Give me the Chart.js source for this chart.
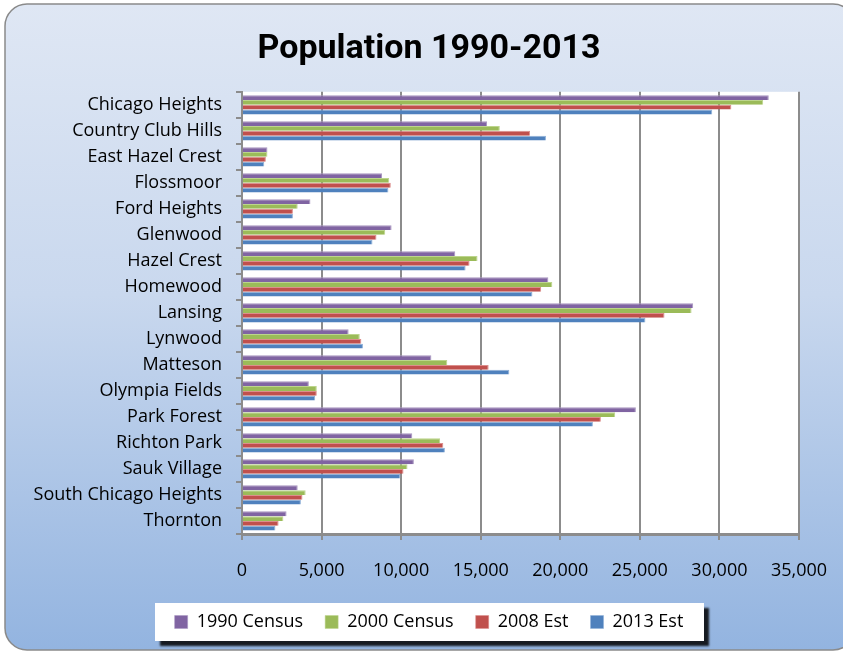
<!DOCTYPE html>
<html>
<head>
<meta charset="utf-8">
<script src="https://cdn.jsdelivr.net/npm/chart.js@4"></script>
<style>
  html, body { margin: 0; padding: 0; background: #ffffff; }
  #wrap { width: 843px; height: 654px; position: relative; }
</style>
</head>
<body>
<div id="wrap"><canvas id="chart" width="843" height="654"></canvas></div>
<script>
// populations
const categories = ['Chicago Heights', 'Country Club Hills', 'East Hazel Crest', 'Flossmoor', 'Ford Heights',
  'Glenwood', 'Hazel Crest', 'Homewood', 'Lansing', 'Lynwood', 'Matteson', 'Olympia Fields',
  'Park Forest', 'Richton Park', 'Sauk Village', 'South Chicago Heights', 'Thornton'];
const census1990 = [33100, 15400, 1600, 8800, 4300, 9400, 13400, 19250, 28350, 6700, 11900, 4200, 24750, 10700, 10800, 3500, 2800];
const census2000 = [32750, 16200, 1600, 9250, 3500, 9000, 14800, 19500, 28250, 7400, 12900, 4700, 23450, 12450, 10400, 4000, 2600];
const est2008 = [30750, 18100, 1500, 9350, 3200, 8450, 14300, 18800, 26550, 7500, 15500, 4700, 22550, 12650, 10150, 3800, 2300];
const est2013 = [29550, 19100, 1400, 9200, 3200, 8200, 14050, 18250, 25350, 7600, 16800, 4600, 22050, 12750, 9950, 3700, 2100];
const xTicks = [0, 5000, 10000, 15000, 20000, 25000, 30000, 35000];

const FONT = "'Open Sans', 'DejaVu Sans', sans-serif";
const PAD_LEFT = 15;

// outer rounded panel, white plot area and the legend frame with its shadow
const backdrop = {
  id: 'backdrop',
  beforeDraw(chart) {
    const ctx = chart.ctx;
    const a = chart.chartArea;
    ctx.save();
    const g = ctx.createLinearGradient(0, 4, 0, 650);
    g.addColorStop(0, '#dfe7f4');
    g.addColorStop(0.45, '#c9d8ee');
    g.addColorStop(1, '#93b4e0');
    ctx.beginPath();
    ctx.roundRect(5, 4, 850, 646, 22);
    ctx.fillStyle = g;
    ctx.fill();
    ctx.strokeStyle = '#8a8a8a';
    ctx.lineWidth = 1.5;
    ctx.stroke();

    ctx.fillStyle = '#ffffff';
    ctx.fillRect(a.left, a.top, a.right - a.left, a.bottom - a.top);

    // legend box
    ctx.shadowColor = 'rgba(0,0,0,0.85)';
    ctx.shadowBlur = 2;
    ctx.shadowOffsetX = 5;
    ctx.shadowOffsetY = 5;
    ctx.fillStyle = '#ffffff';
    ctx.fillRect(155, 603, 549, 38);
    ctx.restore();
  }
};

new Chart(document.getElementById('chart'), {
  type: 'bar',
  data: {
    labels: categories,
    datasets: [
      { label: '1990 Census', data: census1990, backgroundColor: '#8064a2', borderColor: '#a896c0' },
      { label: '2000 Census', data: census2000, backgroundColor: '#9bbb59', borderColor: '#bcd58c' },
      { label: '2008 Est', data: est2008, backgroundColor: '#c0504d', borderColor: '#dc8e8c' },
      { label: '2013 Est', data: est2013, backgroundColor: '#4f81bd', borderColor: '#8fb0d8' }
    ]
  },
  options: {
    indexAxis: 'y',
    responsive: false,
    animation: false,
    categoryPercentage: 0.74,
    barPercentage: 1,
    borderWidth: { top: 1, bottom: 0, left: 0, right: 1 },
    layout: { padding: { left: PAD_LEFT, right: 0, top: 0, bottom: 13 } },
    plugins: {
      title: {
        display: true,
        text: 'Population 1990-2013',
        color: '#000000',
        font: { family: "Roboto, " + FONT, size: 34, weight: 'bold' },
        padding: { top: 29, bottom: 22 }
      },
      legend: {
        position: 'bottom',
        labels: {
          color: '#000000',
          font: { family: FONT, size: 18 },
          boxWidth: 13,
          boxHeight: 13,
          padding: 22
        }
      },
      tooltip: { enabled: false }
    },
    scales: {
      x: {
        min: 0,
        max: 35000,
        afterBuildTicks(scale) { scale.ticks = xTicks.map(v => ({ value: v })); },
        afterFit(scale) {
          scale.height = 57;
          scale.paddingLeft = 0;
          scale.paddingRight = 0;
        },
        grid: { color: '#8c8c8c', lineWidth: 2, tickLength: 6 },
        border: { color: '#8c8c8c', width: 3 },
        ticks: {
          color: '#000000',
          font: { family: FONT, size: 18 },
          padding: 20,
          maxRotation: 0,
          callback: v => v.toLocaleString('en-US')
        }
      },
      y: {
        afterFit(scale) { scale.width = 242 - PAD_LEFT; },
        grid: { display: true, drawOnChartArea: false, offset: true, color: '#8c8c8c', lineWidth: 2, tickLength: 6 },
        border: { color: '#8c8c8c', width: 2 },
        ticks: {
          color: '#000000',
          font: { family: FONT, size: 18 },
          padding: 14,
          autoSkip: false
        }
      },
      // empty strip on the right that leaves room beside the plot
      yRight: {
        type: 'linear',
        position: 'right',
        afterFit(scale) { scale.width = 44; },
        grid: { display: false },
        border: { display: false },
        ticks: { display: false }
      }
    }
  },
  plugins: [backdrop]
});
</script>
</body>
</html>
